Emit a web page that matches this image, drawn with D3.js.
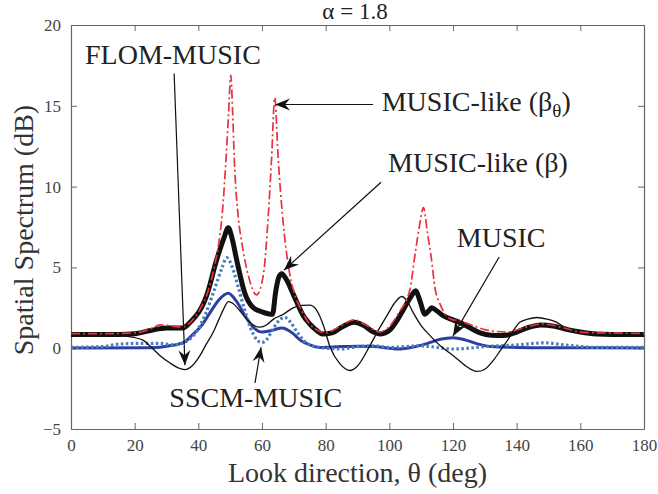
<!DOCTYPE html>
<html>
<head>
<meta charset="utf-8">
<script src="https://cdn.jsdelivr.net/npm/d3@7"></script>
<style>
  body { margin: 0; background: #fff; }
</style>
</head>
<body>
<script>
// tick values
const xTicks = [0, 20, 40, 60, 80, 100, 120, 140, 160, 180];
const yTicks = [-5, 0, 5, 10, 15, 20];

// [theta (deg), spectrum (dB)]
const musicLikeBetaTheta = [
  [0, 0.9], [10, 0.9], [20, 0.95], [25, 1.2], [28, 1.44], [31, 1.4], [35, 1.3], [37.5, 1.6],
  [40.5, 2.4], [43, 3.5], [45, 5], [46.5, 6.6], [47.5, 8.3], [48.7, 11.7], [49.5, 14.5],
  [50.2, 16.9], [50.8, 14.5], [51.3, 11.7], [52.6, 8], [53.6, 6.6], [55.7, 4.5], [58.3, 3.3],
  [60.4, 4.5], [62, 8.3], [63, 11.7], [64, 15.5], [65.1, 11.7], [66.4, 8.3], [68.8, 4.5],
  [70, 3.5], [72, 2.5], [75, 1.5], [78, 1.05], [80, 0.95], [84, 1.3], [89, 1.75], [93, 1.4],
  [97, 1.0], [100, 1.35], [103, 2.2], [106.5, 3.66], [108, 5.7], [109.5, 7.6], [110.7, 8.7],
  [112, 7.1], [113.1, 5.7], [114.4, 3.66], [116, 2.7], [118, 2.0], [120, 1.75], [122, 1.7],
  [125, 1.5], [130, 1.15], [137, 1.0], [143, 1.3], [148, 1.5], [155, 1.25], [160, 1.0],
  [165, 0.95], [180, 0.92]
];

const musicLikeBeta = [
  [0, 0.85], [15, 0.85], [20, 0.9], [25, 1.1], [30, 1.25], [35, 1.25], [37.4, 1.6],
  [42.6, 3.25], [45.8, 5.5], [48, 6.8], [49.4, 7.45], [50.6, 6.8], [52, 5.5], [54.7, 3.35],
  [57.3, 2.5], [60, 2.25], [63.3, 2.1], [64.3, 3.5], [65.3, 4.4], [66.2, 4.6], [67.5, 4.3],
  [69.8, 3.35], [73, 2.0], [75, 1.5], [77.2, 1.1], [79, 0.88], [82, 0.95], [85, 1.3],
  [89, 1.6], [92, 1.4], [95, 1.0], [97, 0.88], [100, 1.1], [103, 1.9], [105, 2.6],
  [106.5, 3.1], [108.3, 3.55], [109.5, 3.0], [111.2, 2.1], [112.3, 2.3], [113.3, 2.5],
  [115, 2.3], [117, 2.0], [120, 1.75], [122, 1.6], [125, 1.3], [128.5, 0.95], [132, 0.8],
  [136, 0.78], [140, 1.0], [144, 1.3], [147.5, 1.44], [152, 1.35], [156, 1.15], [160, 1.0],
  [165, 0.88], [170, 0.85], [180, 0.85]
];

const flomMusic = [
  [0, 0.85], [8, 0.85], [12, 0.82], [17, 0.75], [22.6, 0.5], [25, 0.1], [28, -0.46],
  [31, -0.9], [33.5, -1.2], [35.8, -1.32], [38, -1.1], [40.5, -0.46], [42.5, 0.25],
  [44.7, 1.0], [46.5, 1.8], [47.9, 2.4], [49.4, 2.88], [51, 2.75], [53.1, 2.3], [55, 1.85],
  [56.8, 1.5], [59.4, 1.3], [61.5, 1.45], [63.6, 1.8], [66.7, 2.1], [69.8, 2.5], [72.5, 2.65],
  [75, 2.67], [77, 2.4], [79.3, 1.4], [81.4, 0.06], [84.5, -0.97], [87.7, -1.38], [90, -1.1],
  [93.9, 0.16], [96.5, 1.1], [99.2, 2.0], [101.5, 2.75], [103.9, 3.2], [105.5, 2.95],
  [107.5, 2.2], [110, 1.4], [112.8, 0.78], [116, 0.15], [120.1, -0.46], [124, -1.1],
  [127.5, -1.44], [130, -1.3], [132.5, -0.8], [135, -0.1], [137.4, 0.57], [139, 1.1],
  [141, 1.6], [143.5, 1.8], [146.3, 1.9], [149.5, 1.8], [152.6, 1.6], [155, 1.3],
  [157.8, 1.09], [161, 0.9], [166, 0.85], [180, 0.85]
];

const music = [
  [0, 0.02], [25, 0.03], [31, 0.15], [35.8, 0.4], [38, 0.8], [41, 1.4], [44, 2.3],
  [46.5, 3.0], [49.4, 3.4], [52, 2.9], [55, 1.9], [57.5, 1.25], [60, 1.0], [63, 1.1],
  [66.3, 1.25], [69.5, 0.95], [72, 0.5], [75, 0.2], [78, 0.05], [85, 0.1], [90, 0.12],
  [95, 0.1], [100, 0.0], [103, -0.05], [107, 0.05], [112, 0.3], [116, 0.55], [120, 0.65],
  [124, 0.5], [128, 0.25], [132, 0.1], [140, 0.05], [150, 0.03], [180, 0.02]
];

const sscmMusic = [
  [0, 0.05], [10, 0.1], [15, 0.25], [22, 0.3], [28, 0.3], [32, 0.2], [36, 0.4], [39, 0.9],
  [42, 2.0], [45, 3.6], [47.5, 5.0], [48.9, 5.6], [50.5, 5.1], [52.5, 3.8], [54.5, 2.4],
  [56.5, 1.2], [58.5, 0.5], [59.9, 0.35], [61.5, 0.55], [63.5, 1.2], [65.5, 1.75],
  [67.2, 1.9], [69, 1.6], [71, 1.0], [73, 0.5], [75, 0.2], [78, 0.05], [85, -0.05],
  [90, 0.1], [95, 0.15], [100, 0.05], [105, 0.1], [110, 0.15], [115, 0.05], [120, -0.05],
  [125, 0.0], [130, 0.1], [140, 0.2], [149, 0.33], [155, 0.2], [165, 0.05], [180, 0.05]
];

// annotation labels and arrows, in data units
const labels = [
  { text: "FLOM-MUSIC", x: 4.4, y: 17.6, from: [32.4, 17.0], to: [35.8, -1.05] },
  { text: "MUSIC-like (β", sub: "θ", tail: ")", x: 97.6, y: 14.67, from: [94.9, 15.08], to: [64.1, 15.08] },
  { text: "MUSIC-like (β)", x: 99.6, y: 10.88, from: [97.4, 10.27], to: [66.9, 4.83] },
  { text: "MUSIC", x: 121.2, y: 6.27, from: [134.5, 5.64], to: [120, 0.76] },
  { text: "SSCM-MUSIC", x: 30.9, y: -3.64, from: [57.8, -2.15], to: [59.7, 0.06] }
];

const serif = "Liberation Serif";

const width = 658;
const height = 494;
const margin = { top: 25, right: 14, bottom: 65, left: 71 };

const svg = d3.select("body")
  .append("svg")
  .attr("width", width)
  .attr("height", height);

const x = d3.scaleLinear()
  .domain([0, 180])
  .range([margin.left, width - margin.right]);

const y = d3.scaleLinear()
  .domain([-5, 20])
  .range([height - margin.bottom, margin.top]);

const axisColor = "#666";
const tickColor = "#444";

// axes with inward ticks, box around the plot
const styleAxis = (g) => {
  g.attr("font-family", serif).attr("font-size", 17);
  g.select(".domain").attr("stroke", axisColor).attr("stroke-width", 1.2);
  g.selectAll(".tick line").attr("stroke", axisColor).attr("stroke-width", 1);
  g.selectAll(".tick text").attr("fill", tickColor);
};

svg.append("g")
  .attr("transform", `translate(0,${y(-5)})`)
  .call(d3.axisBottom(x).tickValues(xTicks).tickSizeInner(-6).tickSizeOuter(0).tickPadding(10))
  .call(styleAxis);

svg.append("g")
  .attr("transform", `translate(0,${y(20)})`)
  .call(d3.axisTop(x).tickValues(xTicks).tickSizeInner(-6).tickSizeOuter(0).tickFormat(""))
  .call(styleAxis);

svg.append("g")
  .attr("transform", `translate(${x(0)},0)`)
  .call(d3.axisLeft(y).tickValues(yTicks).tickSizeInner(-6).tickSizeOuter(0).tickPadding(10))
  .call(styleAxis);

svg.append("g")
  .attr("transform", `translate(${x(180)},0)`)
  .call(d3.axisRight(y).tickValues(yTicks).tickSizeInner(-6).tickSizeOuter(0).tickFormat(""))
  .call(styleAxis);

// axis titles
svg.append("text")
  .attr("x", (x(0) + x(180)) / 2)
  .attr("y", 482)
  .attr("text-anchor", "middle")
  .attr("fill", "#333")
  .attr("font-family", serif)
  .attr("font-size", 28)
  .text("Look direction,  θ (deg)");

svg.append("text")
  .attr("transform", `translate(33,${(y(-5) + y(20)) / 2 + 3}) rotate(-90)`)
  .attr("text-anchor", "middle")
  .attr("fill", "#333")
  .attr("font-family", serif)
  .attr("font-size", 28)
  .text("Spatial Spectrum (dB)");

svg.append("text")
  .attr("x", 355)
  .attr("y", 19)
  .attr("text-anchor", "middle")
  .attr("fill", "#222")
  .attr("font-family", serif)
  .attr("font-size", 23)
  .text("α = 1.8");

// curves
const line = d3.line()
  .x(d => x(d[0]))
  .y(d => y(d[1]))
  .curve(d3.curveMonotoneX);

const plot = svg.append("g");

plot.append("path")
  .datum(music)
  .attr("d", line)
  .attr("fill", "none")
  .attr("stroke", "#2c3e9e")
  .attr("stroke-width", 3);

plot.append("path")
  .datum(sscmMusic)
  .attr("d", line)
  .attr("fill", "none")
  .attr("stroke", "#4a7dbf")
  .attr("stroke-width", 3.2)
  .attr("stroke-dasharray", "2.5,2.5");

plot.append("path")
  .datum(flomMusic)
  .attr("d", line)
  .attr("fill", "none")
  .attr("stroke", "#111")
  .attr("stroke-width", 1.3);

plot.append("path")
  .datum(musicLikeBeta)
  .attr("d", line)
  .attr("fill", "none")
  .attr("stroke", "#111")
  .attr("stroke-width", 5)
  .attr("stroke-linejoin", "round");

plot.append("path")
  .datum(musicLikeBetaTheta)
  .attr("d", line)
  .attr("fill", "none")
  .attr("stroke", "#e8323e")
  .attr("stroke-width", 1.7)
  .attr("stroke-dasharray", "9,3,2,3");

// arrowhead marker
svg.append("defs")
  .append("marker")
  .attr("id", "head")
  .attr("viewBox", "-16 -7 17 14")
  .attr("refX", 0)
  .attr("refY", 0)
  .attr("markerWidth", 17)
  .attr("markerHeight", 14)
  .attr("markerUnits", "userSpaceOnUse")
  .attr("orient", "auto")
  .append("path")
  .attr("d", "M0,0 L-15,-6 L-10,0 L-15,6 Z")
  .attr("fill", "#111");

// annotations
labels.forEach(l => {
  svg.append("line")
    .attr("x1", x(l.from[0]))
    .attr("y1", y(l.from[1]))
    .attr("x2", x(l.to[0]))
    .attr("y2", y(l.to[1]))
    .attr("stroke", "#111")
    .attr("stroke-width", 1.2)
    .attr("marker-end", "url(#head)");

  const t = svg.append("text")
    .attr("x", x(l.x))
    .attr("y", y(l.y))
    .attr("fill", "#222")
    .attr("font-family", serif)
    .attr("font-size", 28)
    .text(l.text);

  if (l.sub) {
    t.append("tspan").attr("dy", 6).attr("font-size", 19).text(l.sub);
    t.append("tspan").attr("dy", -6).text(l.tail);
  }
});
</script>
</body>
</html>
